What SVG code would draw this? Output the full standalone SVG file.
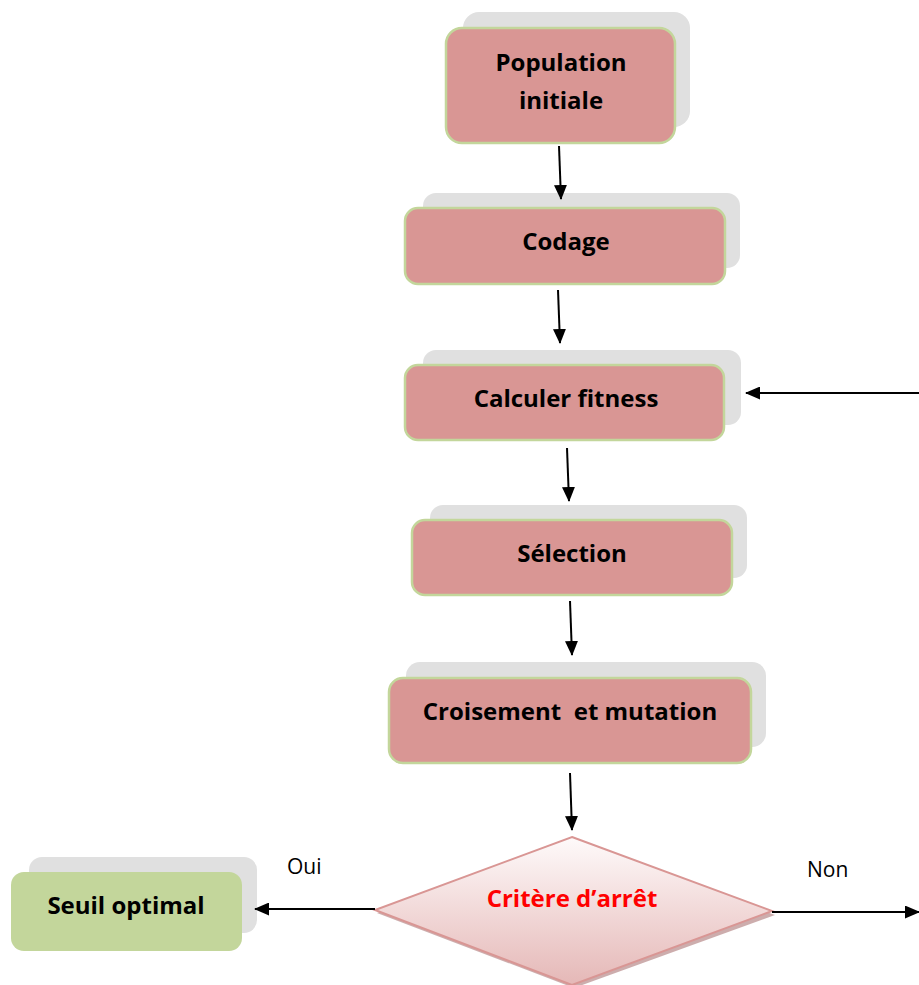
<svg xmlns="http://www.w3.org/2000/svg" width="919" height="985" viewBox="0 0 919 985">
<style>
.sh{fill:#e0e0e0}
.bx{fill:#d99694;stroke:#c3d69b;stroke-width:2.5}
.t{font-family:"Open Sans","Liberation Sans",sans-serif;font-weight:bold;font-size:24px;fill:#000;text-anchor:middle}
.lb{font-family:"Open Sans","Liberation Sans",sans-serif;font-size:21px;fill:#000}
.c{stroke:#000;stroke-width:2;fill:none;marker-end:url(#ah)}
</style>
<defs>
<marker id="ah" markerUnits="userSpaceOnUse" markerWidth="15" markerHeight="13" refX="14" refY="6.5" orient="auto">
<path d="M0,0 L15,6.5 L0,13 Z" fill="#000"/>
</marker>
<linearGradient id="dg" x1="0" y1="0" x2="0" y2="1">
<stop offset="0" stop-color="#fefafa"/>
<stop offset="1" stop-color="#e5b8b7"/>
</linearGradient>
</defs>
<g id="population">
<rect class="sh" x="463" y="12" width="227" height="115" rx="16"/>
<rect class="bx" x="446" y="28" width="229" height="115" rx="16"/>
<text class="t" x="561" y="71">Population</text>
<text class="t" x="561" y="109">initiale</text>
</g>
<g id="codage">
<rect class="sh" x="423" y="193" width="317" height="75" rx="13"/>
<rect class="bx" x="405" y="208" width="320" height="76" rx="13"/>
<text class="t" x="566" y="250">Codage</text>
</g>
<g id="fitness">
<rect class="sh" x="423" y="350" width="318" height="75" rx="13"/>
<rect class="bx" x="405" y="365" width="319" height="75" rx="13"/>
<text class="t" x="566" y="407">Calculer fitness</text>
</g>
<g id="selection">
<rect class="sh" x="430" y="505" width="317" height="73" rx="13"/>
<rect class="bx" x="412" y="520" width="320" height="75" rx="13"/>
<text class="t" x="572" y="562">Sélection</text>
</g>
<g id="croisement">
<rect class="sh" x="406" y="662" width="360" height="85" rx="14"/>
<rect class="bx" x="389" y="678" width="362" height="85" rx="14"/>
<text class="t" x="570" y="720" style="white-space:pre">Croisement  et mutation</text>
</g>
<g id="critere">
<polygon points="574,840 775,915 574,988 377,913" fill="#b88a8a" opacity="0.7"/>
<polygon points="572,837 772,911 572,985 375,910" fill="url(#dg)" stroke="#d99694" stroke-width="2"/>
<text class="t" x="572" y="907" style="fill:#ff0000">Critère d’arrêt</text>
</g>
<g id="seuil">
<rect class="sh" x="29" y="857" width="228" height="76" rx="13"/>
<rect x="11" y="872" width="231" height="79" rx="13" fill="#c3d69b"/>
<text class="t" x="126" y="914">Seuil optimal</text>
</g>
<g id="connectors">
<line class="c" x1="559" y1="146" x2="561" y2="199"/>
<line class="c" x1="558" y1="290" x2="560" y2="343"/>
<line class="c" x1="567" y1="448" x2="569" y2="501"/>
<line class="c" x1="570" y1="601" x2="572" y2="655"/>
<line class="c" x1="570" y1="773" x2="572" y2="830"/>
<line class="c" x1="919" y1="393" x2="746" y2="393"/>
<line class="c" x1="375" y1="909" x2="255" y2="909"/>
<line class="c" x1="772" y1="912" x2="919" y2="912"/>
<text class="lb" x="287" y="874">Oui</text>
<text class="lb" x="807" y="877">Non</text>
</g>
</svg>
